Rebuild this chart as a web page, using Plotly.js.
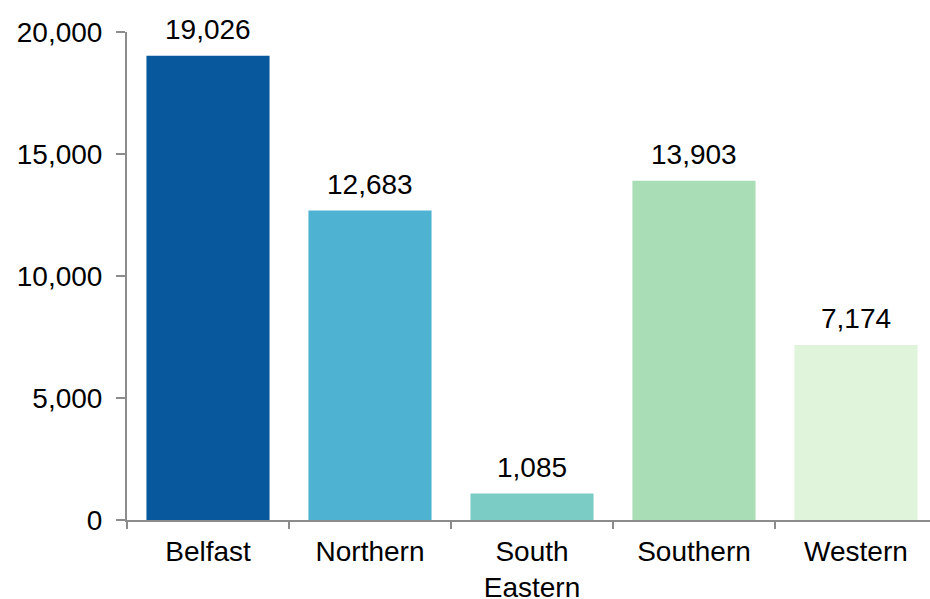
<!DOCTYPE html>
<html>
<head>
<meta charset="utf-8">
<script src="https://cdn.plot.ly/plotly-3.0.1.min.js"></script>
<style>html,body{margin:0;padding:0;background:#fff;}#chart{width:930px;height:599px;}</style>
</head>
<body>
<div id="chart"></div>
<script>
const categories = ["Belfast", "Northern", "South<br>Eastern", "Southern", "Western"];
const values = [19026, 12683, 1085, 13903, 7174];
const colors = ["#08589e", "#4eb3d3", "#7bccc4", "#a8ddb5", "#e0f3db"];
const yTickVals = [0, 5000, 10000, 15000, 20000];
const yTickText = ["0", "5,000", "10,000", "15,000", "20,000"];

const fmt = v => v.toLocaleString("en-US");
const font = {family: "Arial, 'Liberation Sans', sans-serif", size: 28, color: "#000"};

const trace = {
  type: "bar",
  x: categories,
  y: values,
  marker: {color: colors},
  width: 0.76,
  hoverinfo: "none"
};

const annotations = categories.map((c, i) => ({
  x: c, y: values[i], xref: "x", yref: "y",
  text: fmt(values[i]), showarrow: false,
  yanchor: "bottom", yshift: 9, font: font
}));

const layout = {
  width: 930, height: 599,
  margin: {l: 127, r: 0, t: 32, b: 79},
  paper_bgcolor: "#fff", plot_bgcolor: "#fff",
  showlegend: false,
  font: font,
  xaxis: {
    type: "category",
    range: [-0.5, 4.457],
    showline: true, linecolor: "#8c8c8c", linewidth: 2,
    ticks: "outside", tickson: "boundaries", ticklen: 7, tickcolor: "#8c8c8c", tickwidth: 2,
    showgrid: false, zeroline: false,
    tickfont: font, ticklabelstandoff: 5
  },
  yaxis: {
    range: [0, 20000],
    tickvals: yTickVals, ticktext: yTickText,
    showline: true, linecolor: "#8c8c8c", linewidth: 2,
    ticks: "outside", ticklen: 9, tickcolor: "#8c8c8c", tickwidth: 2,
    showgrid: false, zeroline: false,
    tickfont: font, ticklabelstandoff: 8
  },
  annotations: annotations
};

Plotly.newPlot("chart", [trace], layout, {staticPlot: true, displayModeBar: false});
</script>
</body>
</html>
